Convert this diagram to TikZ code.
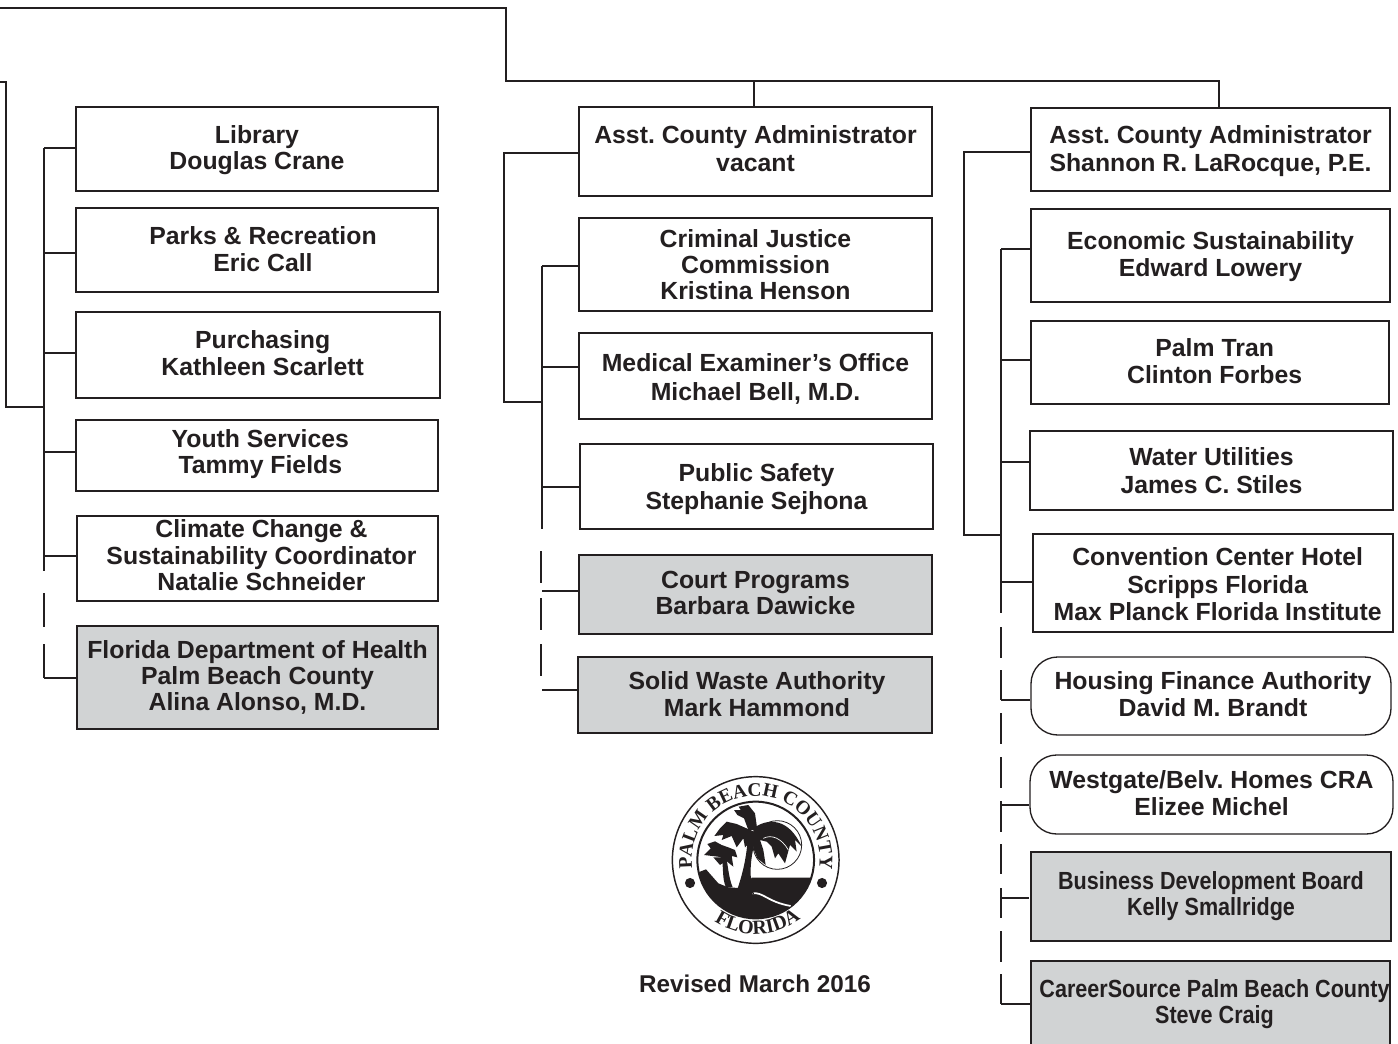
\documentclass[tikz,border=0pt]{standalone}
\usepackage{fontspec}
\setmainfont{Liberation Sans}
\setsansfont{Liberation Sans}
\newfontfamily\sealfont{Liberation Serif}
\newfontfamily\narrowfont[FakeStretch=0.87]{Liberation Sans}
\usetikzlibrary{decorations.text}
\definecolor{inkblack}{HTML}{231F20}
\definecolor{boxgray}{HTML}{D1D3D4}
\newcommand{\droptext}[1]{\rule{0pt}{\dimexpr 13.5pt+#1*2\relax}}
\newcommand{\lifttext}[1]{\rule[-\dimexpr #1*2\relax]{0pt}{0pt}}
\frenchspacing
\tikzset{
 orgbox/.style={draw=inkblack,line width=1pt,align=center,inner sep=0pt,text=inkblack,
   font=\fontsize{18.6}{19.6}\selectfont\bfseries},
 grayfill/.style={fill=boxgray},
 narrowtext/.style={font=\fontsize{18.6}{19.6}\narrowfont\bfseries},
 roundbox/.style={rounded corners=20pt},
 link/.style={draw=inkblack,line width=0.8pt},
}
\begin{document}
\begin{tikzpicture}[x=0.75pt,y=-0.75pt]
 \useasboundingbox (0,0) rectangle (1398,1044);
 % left column
 \node[orgbox,minimum width=271.5pt,minimum height=63pt] (library) at (257,149) {\droptext{0.7pt}Library\\Douglas Crane};
 \node[orgbox,minimum width=271.5pt,minimum height=63pt] (parks) at (257,250) {\hspace*{9pt}Parks \& Recreation\\\hspace*{9pt}Eric Call\lifttext{0.7pt}};
 \node[orgbox,minimum width=273pt,minimum height=64.5pt] (purchasing) at (258,355) {\hspace*{7pt}Purchasing\\\hspace*{7pt}Kathleen Scarlett\lifttext{1.5pt}};
 \node[orgbox,minimum width=271.5pt,minimum height=53.25pt] (youth) at (257,455.5) {\hspace*{5pt}Youth Services\\\hspace*{5pt}Tammy Fields\lifttext{3pt}};
 \node[orgbox,minimum width=270.75pt,minimum height=63.75pt] (climate) at (257.5,558.5) {\hspace*{6pt}Climate Change \&\\\hspace*{6pt}Sustainability Coordinator\\\hspace*{6pt}Natalie Schneider\lifttext{2.6pt}};
 \node[orgbox,grayfill,minimum width=270.75pt,minimum height=77.25pt] (health) at (257.5,677.5) {Florida Department of Health\\Palm Beach County\\Alina Alonso, M.D.\lifttext{1.5pt}};
 % middle column
 \node[orgbox,minimum width=264.75pt,minimum height=66.75pt] (asstone) at (755.5,151.5) {Asst. County Administrator\\[1.5pt]vacant\lifttext{2.2pt}};
 \node[orgbox,minimum width=264.75pt,minimum height=69.75pt] (justice) at (755.5,264.5) {Criminal Justice\\Commission\\Kristina Henson};
 \node[orgbox,minimum width=264.75pt,minimum height=64.5pt] (examiner) at (755.5,376) {\droptext{2.2pt}Medical Examiner’s Office\\[1.5pt]Michael Bell, M.D.};
 \node[orgbox,minimum width=264.75pt,minimum height=63.75pt] (safety) at (756.5,486.5) {\droptext{2.2pt}Public Safety\\[1.5pt]Stephanie Sejhona};
 \node[orgbox,grayfill,minimum width=264.75pt,minimum height=59.25pt] (court) at (755.5,594.5) {Court Programs\\Barbara Dawicke\lifttext{1.5pt}};
 \node[orgbox,grayfill,minimum width=265.5pt,minimum height=57pt] (waste) at (755,695) {\hspace*{3pt}Solid Waste Authority\\\hspace*{3pt}Mark Hammond\lifttext{0.7pt}};
 % right column
 \node[orgbox,minimum width=269.25pt,minimum height=62.25pt] (assttwo) at (1210.5,149.5) {\droptext{1.5pt}Asst. County Administrator\\[1.5pt]Shannon R. LaRocque, P.E.};
 \node[orgbox,minimum width=269.25pt,minimum height=69.75pt] (economic) at (1210.5,255.5) {\droptext{1pt}Economic Sustainability\\[0.7pt]Edward Lowery};
 \node[orgbox,minimum width=268.5pt,minimum height=62.25pt] (palmtran) at (1210,362.5) {\hspace*{7pt}Palm Tran\\[0.7pt]\hspace*{7pt}Clinton Forbes\lifttext{1pt}};
 \node[orgbox,minimum width=272.25pt,minimum height=59.25pt] (water) at (1211.5,470.5) {Water Utilities\\[1.5pt]James C. Stiles};
 \node[orgbox,minimum width=270pt,minimum height=73.5pt] (hotel) at (1213,583) {\droptext{1.1pt}\hspace*{7pt}Convention Center Hotel\\[1pt]\hspace*{7pt}Scripps Florida\\[1pt]\hspace*{7pt}Max Planck Florida Institute};
 \node[orgbox,roundbox,minimum width=270pt,minimum height=58.5pt] (housing) at (1211,696) {\hspace*{3pt}Housing Finance Authority\\\hspace*{3pt}David M. Brandt\lifttext{1.5pt}};
 \node[orgbox,roundbox,minimum width=272.25pt,minimum height=59.25pt] (westgate) at (1211.5,794.5) {Westgate/Belv. Homes CRA\\[0.7pt]Elizee Michel\lifttext{1.1pt}};
 \node[orgbox,grayfill,narrowtext,minimum width=270pt,minimum height=66.75pt] (business) at (1211,896.5) {Business Development Board\\Kelly Smallridge};
 \node[orgbox,grayfill,narrowtext,minimum width=269.25pt,minimum height=63.75pt] (career) at (1210.5,1003.5) {\droptext{0.7pt}\hspace*{6pt}CareerSource Palm Beach County\\\hspace*{6pt}Steve Craig};
 \node[text=inkblack,font=\fontsize{18.2}{20}\selectfont\bfseries,inner sep=0pt] (revised) at (755,984) {Revised March 2016};
 % top lines
 \coordinate (topleft) at (0,8);
 \coordinate (topdrop) at (506,8);
 \coordinate (topbus) at (506,81);
 \coordinate (topend) at (1219,81);
 \coordinate (topmid) at (754,81);
 \draw[link] (topleft) -- (topdrop) -- (topbus) -- (topend) -- (topend |- assttwo.north);
 \draw[link] (topmid) -- (topmid |- asstone.north);
 % left spine
 \coordinate (leftout) at (0,82);
 \coordinate (leftin) at (6,407);
 \coordinate (leftspine) at (44,148);
 \draw[link] (leftout) -| (leftin) -- (leftspine |- leftin);
 \draw[link] (leftspine) -- (44,571);
 \foreach \ya/\yb in {593/627,644/678}
  \draw[link] (44,\ya) -- (44,\yb);
 \foreach \boxname/\by in {library/148,parks/253,purchasing/353,youth/452,climate/556,health/678}
  \draw[link] (44,\by) -- (\boxname.west |- 44,\by);
 % middle spine
 \coordinate (midin) at (504,153);
 \coordinate (midjoin) at (504,402);
 \coordinate (midspine) at (542,266);
 \draw[link] (asstone.west |- midin) -- (midin) -- (midjoin) -- (midspine |- midjoin);
 \draw[link] (midspine) -- (542,529);
 \foreach \ya/\yb in {551/583,598/630,644/676}
  \draw[link] (541,\ya) -- (541,\yb);
 \foreach \boxname/\by in {justice/266,examiner/367,safety/487,court/591,waste/690}
  \draw[link] (542,\by) -- (\boxname.west |- 542,\by);
 % right spine
 \coordinate (rightin) at (964,152);
 \coordinate (rightjoin) at (964,535);
 \coordinate (rightspine) at (1001,249);
 \draw[link] (assttwo.west |- rightin) -- (rightin) -- (rightjoin) -- (rightspine |- rightjoin);
 \draw[link] (rightspine) -- (1001,613);
 \foreach \ya/\yb in {627/658,670/700,713/744,757/788,801/832,844/874,888/918,931/962,974/1004}
  \draw[link] (1001,\ya) -- (1001,\yb);
 \foreach \boxname/\by in {economic/249,palmtran/360,water/462,hotel/582,housing/700,westgate/805,career/1004}
  \draw[link] (1001,\by) -- (\boxname.west |- 1001,\by);
 \coordinate (businessend) at (1029,898);
 \draw[link] (1001,898) -- (businessend);
 % seal
 \coordinate (seal) at (755.7,860);
 \draw[inkblack,line width=1.1pt] (seal) circle[radius=62.5pt];
 \draw[inkblack,line width=1.5pt] (seal) circle[radius=43.75pt];
 \fill[inkblack] (690,883) circle[radius=3.8pt];
 \fill[inkblack] (822,883) circle[radius=3.8pt];
 \path[decorate,decoration={text along path,text align={fit to path},
   text={|\fontsize{14.5}{14.5}\sealfont\bfseries\color{inkblack}|PALM BEACH COUNTY}}]
   ([shift={(188:48pt)}]seal) arc[start angle=188,end angle=-8,radius=48pt];
 \path[decorate,decoration={text along path,text align={fit to path},
   text={|\fontsize{15}{15}\sealfont\bfseries\color{inkblack}|FLORIDA}}]
   ([shift={(236:55.5pt)}]seal) arc[start angle=236,end angle=304,radius=55.5pt];
 \begin{scope}[shift={(620,750)},x=0.25pt,y=-0.25pt]
  \begin{scope}
   \clip (407,330) circle[radius=43.75pt];
   \fill[inkblack] (225,385) -- (240,365) -- (258,358) -- (295,400) -- (325,412) -- (372,415) -- (395,383) -- (600,383) -- (600,520) -- (225,520) -- cycle;
   \draw[white,line width=1.3pt] (396,430) .. controls (430,425) and (440,455) .. (512,468);
   \draw[inkblack,line width=0.6pt] (472,285) circle[radius=18.25pt];
   % big palm
   \fill[inkblack] (385,240) .. controls (382,300) and (375,350) .. (352,418) -- (402,432) .. controls (385,380) and (390,320) .. (412,250) -- cycle;
   \fill[inkblack] (342,180) -- (362,180) -- (356,170) -- (385,165) -- (405,190) -- (412,240) -- (385,240) -- (372,205) -- (352,195) -- cycle;
   \fill[inkblack] (402,245) -- (350,222) -- (320,215) -- (300,235) -- (283,258) -- (310,255) -- (305,270) -- (335,258) -- (350,292) -- (370,265) -- (375,292) -- (398,270) -- cycle;
   \fill[inkblack] (400,235) .. controls (440,205) and (505,200) .. (545,290) -- (525,270) -- (530,305) -- (510,285) -- (495,340) -- (475,310) -- (465,325) -- (455,290) -- (440,275) -- (420,270) -- (430,300) -- (437,345) -- (412,325) -- (400,295) -- cycle;
   \draw[white,line width=0.5pt] (430,265) .. controls (455,252) and (485,265) .. (505,300);
   % small palm
   \fill[inkblack] (304,320) .. controls (312,350) and (305,385) .. (318,412) -- (338,412) .. controls (325,380) and (325,350) .. (318,320) -- cycle;
   \fill[inkblack] (310,322) -- (252,315) -- (272,295) -- (262,282) -- (285,274) -- (305,285) -- (325,292) -- (345,300) -- (352,322) -- (335,318) -- (340,350) -- (318,332) -- (300,345) -- (280,322) -- cycle;
  \end{scope}
 \end{scope}
\end{tikzpicture}
\end{document}
